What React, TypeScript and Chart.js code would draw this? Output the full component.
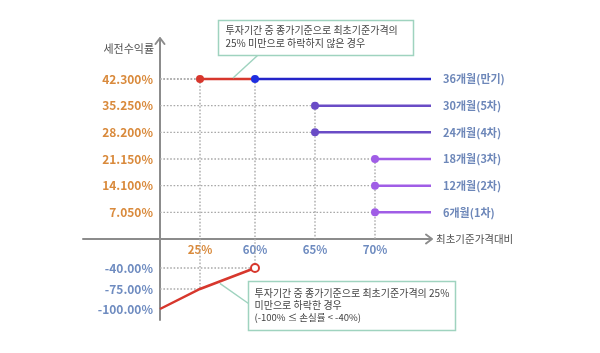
import React, { useEffect, useRef } from 'react';
import { Chart, registerables } from 'chart.js';

Chart.register(...registerables);

// ---------- data ----------
const MATURITY_LABELS = ['36개월(만기)', '30개월(5차)', '24개월(4차)', '18개월(3차)', '12개월(2차)', '6개월(1차)'];
const BARRIER_LEVELS = [60, 65, 65, 70, 70, 70];
const COUPON_RETURNS = [42.3, 35.25, 28.2, 21.15, 14.1, 7.05];
const KNOCK_IN_LEVEL = 25;
const KNOCK_IN_RETURN = 42.3;
const LOSS_LEVELS = [0, 25, 60];
const LOSS_RETURNS = [-100, -75, -40];
const Y_TICK_VALUES = [42.3, 35.25, 28.2, 21.15, 14.1, 7.05, -40, -75, -100];
const Y_TICK_LABELS = ['42.300%', '35.250%', '28.200%', '21.150%', '14.100%', '7.050%', '-40.00%', '-75.00%', '-100.00%'];
const X_TICK_VALUES = [25, 60, 65, 70];
const X_TICK_LABELS = ['25%', '60%', '65%', '70%'];
const Y_TITLE = '세전수익률';
const X_TITLE = '최초기준가격대비';
const NOTE_TOP = ['투자기간 중 종가기준으로 최초기준가격의', '25% 미만으로 하락하지 않은 경우'];
const NOTE_BOTTOM = ['투자기간 중 종가기준으로 최초기준가격의 25%', '미만으로 하락한 경우', '(-100% ≤ 손실률 < -40%)'];

// ---------- styles ----------
const SERIES_COLORS = ['#2424c8', '#6a4cc6', '#6a4cc6', '#a05de6', '#a05de6', '#a05de6'];
const POINT_COLORS = ['#1f2ee0', '#6a4cc6', '#6a4cc6', '#a05de6', '#a05de6', '#a05de6'];
const RED = '#d7372d';
const ORANGE = '#d98a3c';
const TICK_BLUE = '#6f8cc0';
const LABEL_BLUE = '#6d87b9';
const AXIS_GRAY = '#8c8c8c';
const DROP_GRAY = '#a9a9a9';
const MINT = '#9fd3bf';
const FONT = '"Noto Sans CJK KR", "Noto Sans", sans-serif';

// ---------- broken-axis scale transforms (value -> axis units) ----------
const X_AXIS_KNOTS: [number, number][] = [[0, 0], [25, 40], [60, 95], [65, 155], [70, 215]];
const Y_AXIS_KNOTS: [number, number][] = [[-100, -70], [-75, -50], [-40, -29], [0, 0], [42.3, 160]];
const X_MIN = 0, X_MAX = 271, Y_MIN = -81, Y_MAX = 202;

function interp(knots: [number, number][], v: number): number {
  for (let i = 0; i < knots.length - 1; i++) {
    const [a, pa] = knots[i];
    const [b, pb] = knots[i + 1];
    if (v <= b || i === knots.length - 2) {
      return pa + ((v - a) / (b - a)) * (pb - pa);
    }
  }
  return v;
}
const xMap = (v: number) => interp(X_AXIS_KNOTS, v);
const yMap = (v: number) => interp(Y_AXIS_KNOTS, v);

function buildDatasets() {
  const ds: any[] = [];
  // maturity / early-redemption lines
  MATURITY_LABELS.forEach((label, i) => {
    ds.push({
      label,
      data: [
        { x: xMap(BARRIER_LEVELS[i]), y: yMap(COUPON_RETURNS[i]) },
        { x: X_MAX, y: yMap(COUPON_RETURNS[i]) },
      ],
      borderColor: SERIES_COLORS[i],
      backgroundColor: POINT_COLORS[i],
      pointBackgroundColor: POINT_COLORS[i],
      pointBorderColor: POINT_COLORS[i],
      borderWidth: 2.5,
      pointRadius: [4, 0],
      pointBorderWidth: 0,
    });
  });
  // knock-in not reached segment (red)
  ds.push({
    label: 'knockin',
    data: [
      { x: xMap(KNOCK_IN_LEVEL), y: yMap(KNOCK_IN_RETURN) },
      { x: xMap(BARRIER_LEVELS[0]), y: yMap(KNOCK_IN_RETURN) },
    ],
    borderColor: RED,
    pointBackgroundColor: RED,
    pointBorderColor: RED,
    borderWidth: 2.5,
    pointRadius: [4, 0],
    pointBorderWidth: 0,
  });
  // loss line
  ds.push({
    label: 'loss',
    data: LOSS_LEVELS.map((l, i) => ({ x: xMap(l), y: yMap(LOSS_RETURNS[i]) })),
    borderColor: RED,
    pointBackgroundColor: '#ffffff',
    pointBorderColor: RED,
    borderWidth: 2.5,
    pointRadius: LOSS_LEVELS.map((_, i) => (i === LOSS_LEVELS.length - 1 ? 4 : 0)),
    pointBorderWidth: 2,
  });
  // dotted drop lines
  const drop = (x1: number, y1: number, x2: number, y2: number) => ({
    label: 'drop',
    data: [{ x: xMap(x1), y: yMap(y1) }, { x: xMap(x2), y: yMap(y2) }],
    borderColor: DROP_GRAY,
    borderWidth: 1.4,
    borderDash: [1.6, 1.8],
    pointRadius: 0,
  });
  const lossAt = (lvl: number) => {
    const k = LOSS_LEVELS.indexOf(lvl);
    return k >= 0 ? LOSS_RETURNS[k] : 0;
  };
  const starts: [number, number][] = [[KNOCK_IN_LEVEL, KNOCK_IN_RETURN]];
  BARRIER_LEVELS.forEach((b, i) => starts.push([b, COUPON_RETURNS[i]]));
  const doneV = new Set<number>();
  starts.forEach(([b, c]) => {
    ds.push(drop(0, c, b, c));
    if (!doneV.has(b)) {
      doneV.add(b);
      ds.push(drop(b, c, b, lossAt(b)));
    }
  });
  LOSS_LEVELS.forEach((l, i) => {
    if (l > 0) ds.push(drop(0, LOSS_RETURNS[i], l, LOSS_RETURNS[i]));
  });
  return ds;
}

const decorPlugin = {
  id: 'decor',
  beforeDatasetsDraw(chart: any) {
    const { ctx, chartArea, scales } = chart;
    const x0 = scales.x.getPixelForValue(0);
    const y0 = scales.y.getPixelForValue(0);
    ctx.save();
    ctx.strokeStyle = AXIS_GRAY;
    ctx.lineWidth = 2;
    ctx.lineCap = 'round';
    ctx.lineJoin = 'round';
    // y axis
    ctx.beginPath();
    ctx.moveTo(x0, chartArea.bottom);
    ctx.lineTo(x0, chartArea.top + 1);
    ctx.moveTo(x0 - 4.5, chartArea.top + 7);
    ctx.lineTo(x0, chartArea.top + 1);
    ctx.lineTo(x0 + 4.5, chartArea.top + 7);
    ctx.stroke();
    // x axis
    const xr = chartArea.right + 1;
    ctx.beginPath();
    ctx.moveTo(x0 - 77, y0);
    ctx.lineTo(xr, y0);
    ctx.moveTo(xr - 6, y0 - 4.5);
    ctx.lineTo(xr, y0);
    ctx.lineTo(xr - 6, y0 + 4.5);
    ctx.stroke();
    ctx.restore();
  },
  afterDatasetsDraw(chart: any) {
    const { ctx, chartArea, scales } = chart;
    const xs = scales.x, ys = scales.y;
    const x0 = xs.getPixelForValue(0);
    const y0 = ys.getPixelForValue(0);
    ctx.save();
    // axis titles
    ctx.fillStyle = '#505050';
    ctx.font = `11px ${FONT}`;
    ctx.textBaseline = 'middle';
    ctx.textAlign = 'right';
    ctx.fillText(Y_TITLE, x0 - 6, chartArea.top + 12);
    ctx.font = `10.5px ${FONT}`;
    ctx.textAlign = 'left';
    ctx.fillText(X_TITLE, chartArea.right + 5, y0);
    // series labels
    ctx.font = `bold 11px ${FONT}`;
    ctx.fillStyle = LABEL_BLUE;
    MATURITY_LABELS.forEach((lab, i) => {
      ctx.fillText(lab, chartArea.right + 12, ys.getPixelForValue(yMap(COUPON_RETURNS[i])));
    });
    // callout: top
    const pA = { x: xs.getPixelForValue(xMap(KNOCK_IN_LEVEL)), y: ys.getPixelForValue(yMap(KNOCK_IN_RETURN)) };
    const pB = { x: xs.getPixelForValue(xMap(BARRIER_LEVELS[0])), y: pA.y };
    const anchorTop = { x: pA.x + 0.6 * (pB.x - pA.x), y: pA.y };
    const topBox = { x: 218.5, y: 20.5, w: 195, h: 35 };
    ctx.strokeStyle = MINT;
    ctx.lineWidth = 1.5;
    ctx.beginPath();
    ctx.moveTo(topBox.x + 39, topBox.y + topBox.h);
    ctx.lineTo(anchorTop.x, anchorTop.y - 1);
    ctx.stroke();
    ctx.fillStyle = '#ffffff';
    ctx.fillRect(topBox.x, topBox.y, topBox.w, topBox.h);
    ctx.strokeRect(topBox.x, topBox.y, topBox.w, topBox.h);
    ctx.fillStyle = '#444444';
    ctx.font = `10px ${FONT}`;
    ctx.textAlign = 'left';
    NOTE_TOP.forEach((t, i) => ctx.fillText(t, topBox.x + 7, topBox.y + 10 + i * 13));
    // callout: bottom
    const l1 = { x: xs.getPixelForValue(xMap(LOSS_LEVELS[1])), y: ys.getPixelForValue(yMap(LOSS_RETURNS[1])) };
    const l2 = { x: xs.getPixelForValue(xMap(LOSS_LEVELS[2])), y: ys.getPixelForValue(yMap(LOSS_RETURNS[2])) };
    const anchorBot = { x: l1.x + 0.36 * (l2.x - l1.x), y: l1.y + 0.36 * (l2.y - l1.y) };
    const botBox = { x: 248.5, y: 281.5, w: 207, h: 49 };
    ctx.strokeStyle = MINT;
    ctx.beginPath();
    ctx.moveTo(anchorBot.x, anchorBot.y + 2);
    ctx.lineTo(botBox.x, botBox.y + 22);
    ctx.stroke();
    ctx.fillStyle = '#ffffff';
    ctx.fillRect(botBox.x, botBox.y, botBox.w, botBox.h);
    ctx.strokeRect(botBox.x, botBox.y, botBox.w, botBox.h);
    ctx.fillStyle = '#444444';
    NOTE_BOTTOM.forEach((t, i) => {
      ctx.font = i === 2 ? `9.5px ${FONT}` : `10px ${FONT}`;
      ctx.fillText(t, botBox.x + 6, botBox.y + 12 + i * 12);
    });
    ctx.restore();
  },
};

export default function App() {
  const ref = useRef<HTMLCanvasElement | null>(null);
  useEffect(() => {
    if (!ref.current) return;
    const chart = new Chart(ref.current, {
      type: 'line',
      data: { datasets: buildDatasets() },
      options: {
        responsive: false,
        animation: false,
        events: [],
        clip: false as any,
        layout: { padding: { left: 83, right: 169, top: 37, bottom: 33 } },
        plugins: { legend: { display: false }, tooltip: { enabled: false }, title: { display: false } },
        scales: {
          x: {
            type: 'linear',
            position: { y: 0 } as any,
            min: X_MIN,
            max: X_MAX,
            grid: { display: false, drawTicks: false },
            border: { display: false },
            afterBuildTicks: (scale: any) => {
              scale.ticks = X_TICK_VALUES.map((v) => ({ value: xMap(v) }));
            },
            ticks: {
              autoSkip: false,
              maxRotation: 0,
              padding: 4,
              font: { family: FONT, size: 11.5, weight: 'bold' },
              color: (c: any) => (X_TICK_VALUES[c.index] === KNOCK_IN_LEVEL ? ORANGE : TICK_BLUE),
              callback: (_v: any, i: number) => X_TICK_LABELS[i],
            },
          },
          y: {
            type: 'linear',
            position: 'left',
            min: Y_MIN,
            max: Y_MAX,
            grid: { display: false, drawTicks: false },
            border: { display: false },
            afterFit: (scale: any) => {
              scale.width = 77;
            },
            afterBuildTicks: (scale: any) => {
              scale.ticks = Y_TICK_VALUES.map((v) => ({ value: yMap(v) }));
            },
            ticks: {
              autoSkip: false,
              padding: 7,
              font: { family: FONT, size: 12, weight: 'bold' },
              color: (c: any) => (Y_TICK_VALUES[c.index] >= 0 ? ORANGE : TICK_BLUE),
              callback: (_v: any, i: number) => Y_TICK_LABELS[i],
            },
          },
        },
      },
      plugins: [decorPlugin],
    });
    return () => chart.destroy();
  }, []);
  return (
    <div style={{ position: 'fixed', left: 0, top: 0, width: 600, height: 353, background: '#ffffff' }}>
      <canvas ref={ref} width={600} height={353} style={{ display: 'block' }} />
    </div>
  );
}
